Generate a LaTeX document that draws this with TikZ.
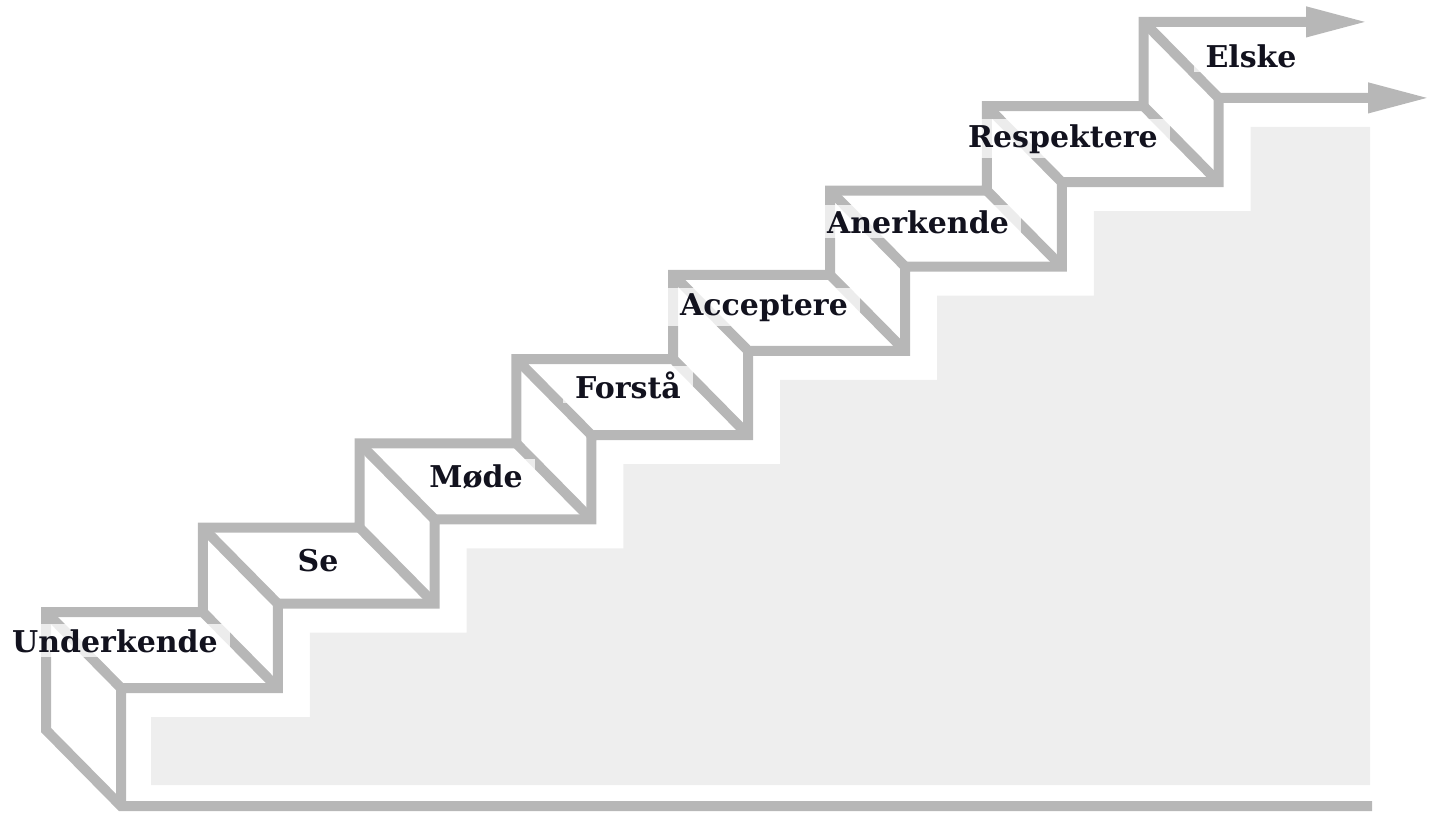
\documentclass[tikz,border=0pt]{standalone}
\usepackage{fontspec}
\setmainfont{DejaVu Serif}
\usepackage{tikz}
\usetikzlibrary{arrows.meta,calc}

\definecolor{stairgray}{HTML}{B7B7B7}
\definecolor{shadegray}{HTML}{EEEEEE}
\definecolor{labelink}{RGB}{18,18,30}

\begin{document}
\begin{tikzpicture}[x=1pt,y=-1pt,line join=miter,
                    >={Triangle[length=62pt,width=28pt]}]
  \tikzstyle{stair}=[draw=stairgray,line width=10pt]
  \tikzstyle{stairshade}=[fill=shadegray]
  \tikzstyle{steplabel}=[anchor=base,fill=white,fill opacity=0.75,text opacity=1,
                         text=labelink,inner xsep=12pt,inner ysep=5pt,
                         font=\bfseries\fontsize{30}{36}\selectfont]

  \useasboundingbox (0,0) rectangle (1439,812);

  % corners of the back and the front edge of the stair
  \foreach \i in {0,...,7}
    \coordinate (b\i) at (46+156.8*\i,612-84.3*\i);
  \foreach \i [count=\j from 1] in {0,...,6}
    \coordinate (c\i) at (46+156.8*\j,612-84.3*\i);
  \foreach \i in {0,...,7}
    \coordinate (f\i) at ($(b\i)+(75,76)$);
  \foreach \i in {0,...,6}
    \coordinate (g\i) at ($(c\i)+(75,76)$);
  \coordinate (bb) at (46,730);
  \coordinate (fb) at (121,806);
  \coordinate (fr) at (1372,806);
  \coordinate (btip) at (1368,21.9);
  \coordinate (ftip) at (1430,97.9);

  % shadow under the stair
  \fill[stairshade] ($(f0)+(30,97)$) -- ($(f0)+(30,29)$)
    \foreach \i [count=\j from 1] in {0,...,6} {-- ($(g\i)+(32,29)$) -- ($(f\j)+(32,29)$)}
    -- (1370,126.9) -- (1370,785) -- cycle;

  % back edge, down and round the bottom
  \draw[stair,<-] (btip) -- (b7)
    \foreach \i [count=\j from 1] in {6,...,0} {-- (c\i) -- (b\i)}
    -- (bb) -- (fb) -- (fr);
  % front edge
  \draw[stair,->] (fb) -- (f0)
    \foreach \i [count=\j from 1] in {0,...,6} {-- (g\i) -- (f\j)} -- (ftip);
  % edges between them
  \foreach \i in {0,...,7}
    \draw[stair] (b\i) -- (f\i);
  \foreach \i in {0,...,6}
    \draw[stair] (c\i) -- (g\i);

  \foreach \word/\x/\y [count=\k] in {Underkende/115/652, Se/318/571,
      Møde/476/487, Forstå/628/398, Acceptere/764/315, Anerkende/918/233,
      Respektere/1063/147, Elske/1251/67}
    \node[steplabel] (step\k) at (\x,\y) {\word};
\end{tikzpicture}
\end{document}
